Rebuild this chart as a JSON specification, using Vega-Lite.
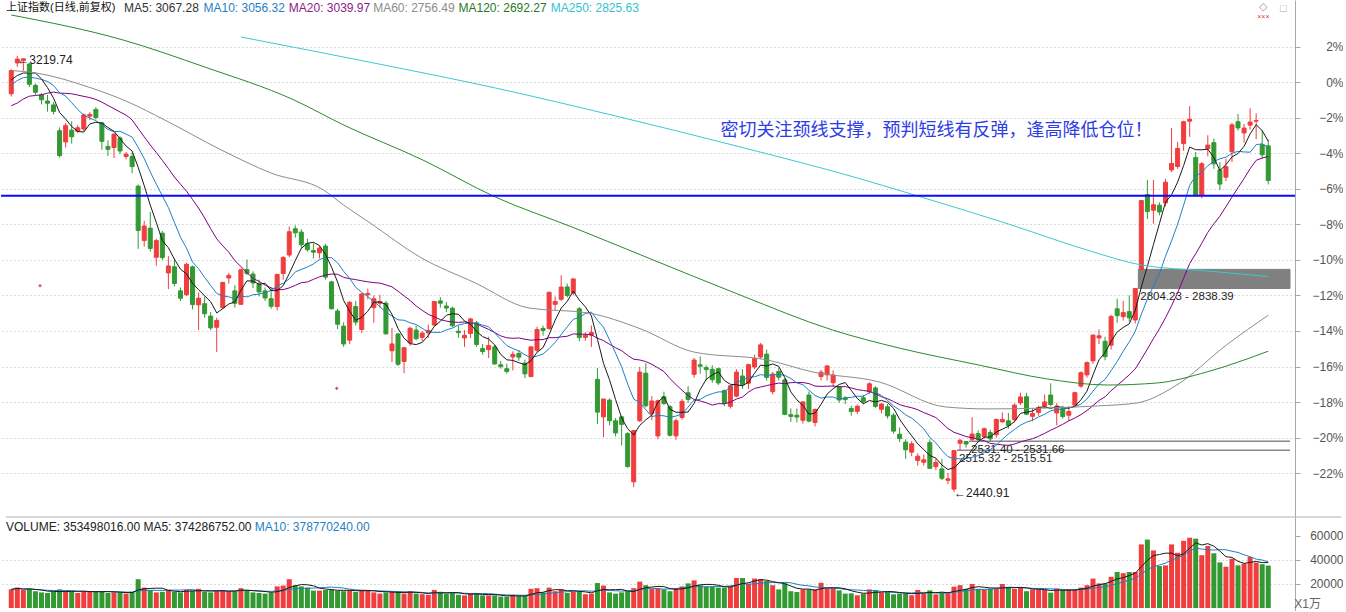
{
"$schema":"https://vega.github.io/schema/vega-lite/v6.json",
"padding":0,
"background":"#ffffff",
"spacing":0,
"bounds":"flush",
"config":{"view":{"stroke":null},"font":"Liberation Sans"},
"datasets":{
"k":[
{"i":-19,"c":3117.38},{"i":-18,"c":3071.54},{"i":-17,"c":3068.01},{"i":-16,"c":3128.93},{"i":-15,"c":3117.97},{"i":-14,"c":3075.03},{"i":-13,"c":3082.23},{"i":-12,"c":3081.18},{"i":-11,"c":3100.86},{"i":-10,"c":3091.03},{"i":-9,"c":3136.65},{"i":-8,"c":3161.5},{"i":-7,"c":3159.15},{"i":-6,"c":3174.41},{"i":-5,"c":3163.26},{"i":-4,"c":3174.03},{"i":-3,"c":3192.12},{"i":-2,"c":3169.57},{"i":-1,"c":3154.28},
{"i":0,"o":3152,"h":3196,"l":3147,"c":3193.3,"v":15500},
{"i":1,"o":3207,"h":3219.74,"l":3200,"c":3213.84,"v":17000},
{"i":2,"o":3211,"h":3215,"l":3193,"c":3214.35,"v":15000},
{"i":3,"o":3205,"h":3207,"l":3164,"c":3168.96,"v":16000},
{"i":4,"o":3167,"h":3170,"l":3150,"c":3154.65,"v":14000},
{"i":5,"o":3150,"h":3153,"l":3133,"c":3141.3,"v":13000},
{"i":6,"o":3139,"h":3150,"l":3120,"c":3135.08,"v":12500},
{"i":7,"o":3132,"h":3137,"l":3115,"c":3120.46,"v":13500},
{"i":8,"o":3086,"h":3092,"l":3038,"c":3041.44,"v":15500},
{"i":9,"o":3066,"h":3100,"l":3056,"c":3095.47,"v":14000},
{"i":10,"o":3087,"h":3103,"l":3063,"c":3075.14,"v":14000},
{"i":11,"o":3085,"h":3096,"l":3082,"c":3091.19,"v":12500},
{"i":12,"o":3089,"h":3117,"l":3085,"c":3114.21,"v":14000},
{"i":13,"o":3112,"h":3119,"l":3105,"c":3115.18,"v":14000},
{"i":14,"o":3124,"h":3128,"l":3106,"c":3109.5,"v":13500},
{"i":15,"o":3100,"h":3102,"l":3052,"c":3067.15,"v":14000},
{"i":16,"o":3058,"h":3069,"l":3041,"c":3052.78,"v":12500},
{"i":17,"o":3056,"h":3082,"l":3037,"c":3079.8,"v":13000},
{"i":18,"o":3073,"h":3076,"l":3044,"c":3049.8,"v":13000},
{"i":19,"o":3040,"h":3048,"l":3035,"c":3044.16,"v":12000},
{"i":20,"o":3040,"h":3047,"l":3010,"c":3021.9,"v":13500},
{"i":21,"o":2987,"h":2990,"l":2875,"c":2907.82,"v":24000},
{"i":22,"o":2890,"h":2925,"l":2879,"c":2915.73,"v":17000},
{"i":23,"o":2912,"h":2941,"l":2870,"c":2875.81,"v":15000},
{"i":24,"o":2860,"h":2893,"l":2845,"c":2889.76,"v":13000},
{"i":25,"o":2903,"h":2907,"l":2855,"c":2859.34,"v":13500},
{"i":26,"o":2832,"h":2862,"l":2803,"c":2844.51,"v":15000},
{"i":27,"o":2843,"h":2858,"l":2808,"c":2813.18,"v":13500},
{"i":28,"o":2800,"h":2806,"l":2782,"c":2786.9,"v":13000},
{"i":29,"o":2793,"h":2850,"l":2791,"c":2847.42,"v":15000},
{"i":30,"o":2843,"h":2845,"l":2767,"c":2775.56,"v":14500},
{"i":31,"o":2775,"h":2797,"l":2730,"c":2786.89,"v":16000},
{"i":32,"o":2777,"h":2790,"l":2752,"c":2759.13,"v":13500},
{"i":33,"o":2755,"h":2762,"l":2730,"c":2733.88,"v":13000},
{"i":34,"o":2735,"h":2752,"l":2691.02,"c":2747.23,"v":14500},
{"i":35,"o":2770,"h":2816,"l":2768,"c":2815.11,"v":15000},
{"i":36,"o":2823,"h":2832,"l":2813,"c":2827.63,"v":14000},
{"i":37,"o":2800,"h":2810,"l":2770,"c":2777.77,"v":14000},
{"i":38,"o":2776,"h":2840,"l":2775,"c":2837.66,"v":16500},
{"i":39,"o":2838,"h":2856,"l":2828,"c":2831.18,"v":15000},
{"i":40,"o":2830,"h":2835,"l":2805,"c":2814.04,"v":13000},
{"i":41,"o":2812,"h":2820,"l":2790,"c":2798.13,"v":12500},
{"i":42,"o":2800,"h":2806,"l":2782,"c":2787.26,"v":12000},
{"i":43,"o":2786,"h":2806,"l":2768,"c":2772.55,"v":12500},
{"i":44,"o":2772,"h":2831,"l":2765,"c":2829.27,"v":18000},
{"i":45,"o":2831,"h":2862,"l":2820,"c":2859.54,"v":18700},
{"i":46,"o":2864,"h":2915,"l":2860,"c":2905.56,"v":24000},
{"i":47,"o":2911,"h":2917,"l":2895,"c":2903.65,"v":19000},
{"i":48,"o":2905,"h":2910,"l":2876,"c":2882.23,"v":18000},
{"i":49,"o":2884,"h":2893,"l":2870,"c":2873.59,"v":17000},
{"i":50,"o":2872,"h":2885,"l":2858,"c":2869.05,"v":14500},
{"i":51,"o":2868,"h":2880,"l":2858,"c":2876.4,"v":14500},
{"i":52,"o":2880,"h":2884,"l":2820,"c":2824.53,"v":15000},
{"i":53,"o":2816,"h":2818,"l":2767,"c":2768.02,"v":15500},
{"i":54,"o":2764,"h":2768,"l":2732,"c":2740.44,"v":14500},
{"i":55,"o":2737,"h":2744,"l":2700,"c":2705.16,"v":14000},
{"i":56,"o":2712,"h":2782,"l":2705,"c":2779.37,"v":15000},
{"i":57,"o":2772,"h":2782,"l":2738,"c":2744.07,"v":13500},
{"i":58,"o":2731,"h":2796,"l":2725,"c":2794.38,"v":15000},
{"i":59,"o":2793,"h":2804,"l":2785,"c":2795.31,"v":15000},
{"i":60,"o":2770,"h":2792,"l":2743,"c":2785.87,"v":13000},
{"i":61,"o":2778,"h":2793,"l":2770,"c":2780.96,"v":12000},
{"i":62,"o":2778,"h":2782,"l":2722,"c":2723.26,"v":13000},
{"i":63,"o":2693,"h":2734,"l":2673,"c":2705.19,"v":13500},
{"i":64,"o":2723,"h":2725,"l":2666,"c":2668.97,"v":13500},
{"i":65,"o":2674,"h":2700,"l":2653,"c":2698.47,"v":12000},
{"i":66,"o":2707,"h":2736,"l":2702,"c":2733.25,"v":14000},
{"i":67,"o":2730,"h":2738,"l":2712,"c":2714.61,"v":12000},
{"i":68,"o":2717,"h":2728,"l":2710,"c":2724.62,"v":11500},
{"i":69,"o":2725,"h":2740,"l":2716,"c":2729.43,"v":11000},
{"i":70,"o":2739,"h":2782,"l":2737,"c":2780.9,"v":15000},
{"i":71,"o":2782,"h":2789,"l":2770,"c":2777.98,"v":13500},
{"i":72,"o":2773,"h":2780,"l":2762,"c":2769.3,"v":12000},
{"i":73,"o":2769,"h":2772,"l":2735,"c":2737.74,"v":12500},
{"i":74,"o":2728,"h":2738,"l":2716,"c":2725.25,"v":11000},
{"i":75,"o":2716,"h":2730,"l":2700,"c":2720.73,"v":10500},
{"i":76,"o":2724,"h":2752,"l":2716,"c":2749.93,"v":12000},
{"i":77,"o":2743,"h":2746,"l":2700,"c":2704.34,"v":12500},
{"i":78,"o":2697,"h":2705,"l":2686,"c":2691.59,"v":10500},
{"i":79,"o":2695,"h":2718,"l":2680,"c":2702.3,"v":10500},
{"i":80,"o":2700,"h":2704,"l":2668,"c":2669.48,"v":10500},
{"i":81,"o":2668,"h":2675,"l":2661,"c":2664.8,"v":9500},
{"i":82,"o":2661,"h":2670,"l":2652,"c":2656.11,"v":9500},
{"i":83,"o":2682,"h":2692,"l":2658,"c":2686.58,"v":11000},
{"i":84,"o":2688,"h":2694,"l":2675,"c":2681.64,"v":10000},
{"i":85,"o":2671,"h":2677,"l":2644,"c":2651.79,"v":10000},
{"i":86,"o":2647,"h":2701,"l":2646,"c":2699.95,"v":16000},
{"i":87,"o":2694,"h":2736,"l":2690,"c":2730.85,"v":16500},
{"i":88,"o":2733,"h":2738,"l":2720,"c":2729.24,"v":13000},
{"i":89,"o":2733,"h":2798.5,"l":2730,"c":2797.49,"v":17000},
{"i":90,"o":2776,"h":2790,"l":2765,"c":2781.14,"v":14000},
{"i":91,"o":2785,"h":2828,"l":2782,"c":2806.81,"v":15500},
{"i":92,"o":2807,"h":2813,"l":2788,"c":2791.77,"v":12500},
{"i":93,"o":2796,"h":2822,"l":2792,"c":2821.35,"v":13500},
{"i":94,"o":2768,"h":2771,"l":2710,"c":2716.51,"v":14000},
{"i":95,"o":2717,"h":2726,"l":2711,"c":2721.01,"v":11500},
{"i":96,"o":2721,"h":2738,"l":2700,"c":2725.84,"v":12000},
{"i":97,"o":2642,"h":2662,"l":2562,"c":2583.46,"v":20800},
{"i":98,"o":2575,"h":2607,"l":2539,"c":2606.91,"v":18700},
{"i":99,"o":2605,"h":2608,"l":2560,"c":2568.1,"v":13000},
{"i":100,"o":2568,"h":2573,"l":2540,"c":2546.33,"v":12000},
{"i":101,"o":2575,"h":2577,"l":2524,"c":2561.61,"v":13000},
{"i":102,"o":2545,"h":2548,"l":2484,"c":2486.42,"v":14000},
{"i":103,"o":2459,"h":2551.6,"l":2449.2,"c":2550.47,"v":16500},
{"i":104,"o":2568,"h":2664.41,"l":2566,"c":2654.88,"v":22000},
{"i":105,"o":2653,"h":2671,"l":2592,"c":2594.83,"v":19000},
{"i":106,"o":2581,"h":2612,"l":2569,"c":2603.3,"v":16000},
{"i":107,"o":2541,"h":2606,"l":2535,"c":2603.8,"v":16500},
{"i":108,"o":2611,"h":2620,"l":2596,"c":2598.85,"v":15500},
{"i":109,"o":2593,"h":2596,"l":2540,"c":2542.1,"v":14000},
{"i":110,"o":2541,"h":2572,"l":2534,"c":2568.05,"v":16000},
{"i":111,"o":2574,"h":2607,"l":2570,"c":2602.78,"v":18000},
{"i":112,"o":2618,"h":2630,"l":2600,"c":2606.24,"v":20500},
{"i":113,"o":2651,"h":2680,"l":2645,"c":2676.48,"v":23000},
{"i":114,"o":2668,"h":2683,"l":2652,"c":2665.43,"v":19000},
{"i":115,"o":2663,"h":2667,"l":2640,"c":2659.36,"v":17800},
{"i":116,"o":2660,"h":2667,"l":2636,"c":2641.34,"v":17800},
{"i":117,"o":2661,"h":2663,"l":2632,"c":2635.63,"v":17000},
{"i":118,"o":2622,"h":2624,"l":2594,"c":2598.87,"v":17000},
{"i":119,"o":2594,"h":2632,"l":2590,"c":2630.52,"v":18000},
{"i":120,"o":2612,"h":2660,"l":2610,"c":2654.88,"v":25000},
{"i":121,"o":2648,"h":2660,"l":2625,"c":2632.24,"v":25000},
{"i":122,"o":2635,"h":2670,"l":2625,"c":2668.17,"v":20000},
{"i":123,"o":2664,"h":2686,"l":2660,"c":2679.11,"v":24500},
{"i":124,"o":2682,"h":2707,"l":2678,"c":2703.51,"v":24000},
{"i":125,"o":2687,"h":2695,"l":2640,"c":2645.43,"v":22500},
{"i":126,"o":2620,"h":2655,"l":2615,"c":2651.51,"v":19000},
{"i":127,"o":2656,"h":2662,"l":2640,"c":2645.85,"v":15500},
{"i":128,"o":2641,"h":2644,"l":2578,"c":2579.48,"v":20500},
{"i":129,"o":2579,"h":2590,"l":2566,"c":2575.81,"v":14000},
{"i":130,"o":2578,"h":2590,"l":2565,"c":2574.68,"v":13300},
{"i":131,"o":2569,"h":2603,"l":2563,"c":2601.74,"v":15500},
{"i":132,"o":2614,"h":2620,"l":2565,"c":2567.44,"v":15500},
{"i":133,"o":2565,"h":2590,"l":2558,"c":2588.19,"v":15500},
{"i":134,"o":2647,"h":2659,"l":2640,"c":2654.8,"v":21000},
{"i":135,"o":2650,"h":2667,"l":2640,"c":2665.96,"v":16400},
{"i":136,"o":2636,"h":2658,"l":2628,"c":2649.81,"v":16400},
{"i":137,"o":2629,"h":2630,"l":2600,"c":2605.18,"v":14700},
{"i":138,"o":2609,"h":2612,"l":2598,"c":2605.89,"v":12000},
{"i":139,"o":2590,"h":2595,"l":2577,"c":2584.58,"v":12200},
{"i":140,"o":2585,"h":2597,"l":2580,"c":2594.09,"v":10600},
{"i":141,"o":2609,"h":2614,"l":2598,"c":2602.15,"v":12000},
{"i":142,"o":2620,"h":2637,"l":2616,"c":2634.05,"v":15500},
{"i":143,"o":2626.6,"h":2630,"l":2591,"c":2593.74,"v":15000},
{"i":144,"o":2588.5,"h":2600,"l":2581,"c":2597.97,"v":12800},
{"i":145,"o":2593,"h":2598,"l":2572,"c":2576.65,"v":13300},
{"i":146,"o":2578,"h":2582,"l":2545,"c":2549.56,"v":11400},
{"i":147,"o":2544,"h":2556,"l":2530,"c":2536.27,"v":12000},
{"i":148,"o":2530,"h":2535,"l":2500,"c":2516.25,"v":12200},
{"i":149,"o":2512,"h":2532,"l":2505,"c":2527.01,"v":10600},
{"i":150,"o":2497,"h":2510,"l":2488,"c":2504.82,"v":15000},
{"i":151,"o":2494,"h":2508,"l":2488,"c":2498.29,"v":12200},
{"i":152,"o":2529,"h":2535,"l":2483,"c":2483.09,"v":14700},
{"i":153,"o":2486,"h":2500,"l":2480,"c":2493.9,"v":11400},
{"i":154,"o":2482,"h":2500,"l":2462,"c":2465.29,"v":12800},
{"i":155,"o":2461.78,"h":2475,"l":2455,"c":2464.36,"v":12200},
{"i":156,"o":2446,"h":2515.32,"l":2440.91,"c":2514.87,"v":17800},
{"i":157,"o":2528,"h":2536,"l":2515.51,"c":2533.09,"v":19000},
{"i":158,"o":2531,"h":2531.4,"l":2520,"c":2526.46,"v":16000},
{"i":159,"o":2535,"h":2574.41,"l":2531.66,"c":2544.34,"v":20000},
{"i":160,"o":2545,"h":2551,"l":2530,"c":2535.1,"v":16000},
{"i":161,"o":2540,"h":2556,"l":2536,"c":2553.83,"v":15500},
{"i":162,"o":2547,"h":2552,"l":2530,"c":2535.77,"v":16000},
{"i":163,"o":2543,"h":2572,"l":2538,"c":2570.34,"v":16000},
{"i":164,"o":2566,"h":2583,"l":2565,"c":2570.42,"v":20000},
{"i":165,"o":2568,"h":2582,"l":2554,"c":2559.64,"v":17000},
{"i":166,"o":2570,"h":2599,"l":2565,"c":2596.01,"v":16000},
{"i":167,"o":2600,"h":2618,"l":2596,"c":2610.51,"v":17000},
{"i":168,"o":2611,"h":2618,"l":2578,"c":2579.7,"v":14000},
{"i":169,"o":2576,"h":2590,"l":2567,"c":2581,"v":15500},
{"i":170,"o":2583,"h":2595,"l":2577,"c":2591.69,"v":15500},
{"i":171,"o":2594,"h":2615,"l":2590,"c":2601.72,"v":15000},
{"i":172,"o":2614,"h":2635,"l":2594,"c":2596.98,"v":12800},
{"i":173,"o":2582,"h":2600,"l":2560,"c":2594.25,"v":16000},
{"i":174,"o":2590,"h":2595,"l":2572,"c":2575.58,"v":15000},
{"i":175,"o":2578,"h":2594,"l":2568,"c":2584.57,"v":15500},
{"i":176,"o":2596,"h":2620,"l":2594,"c":2618.23,"v":15500},
{"i":177,"o":2630,"h":2656,"l":2627,"c":2653.9,"v":17000},
{"i":178,"o":2650,"h":2674,"l":2645,"c":2671.89,"v":19000},
{"i":179,"o":2675,"h":2722,"l":2670,"c":2721.07,"v":24500},
{"i":180,"o":2716,"h":2731,"l":2705,"c":2719.7,"v":20500},
{"i":181,"o":2710,"h":2718,"l":2676,"c":2682.39,"v":20500},
{"i":182,"o":2703,"h":2757,"l":2695,"c":2754.36,"v":26000},
{"i":183,"o":2768,"h":2786,"l":2743,"c":2755.65,"v":30000},
{"i":184,"o":2754,"h":2782,"l":2747,"c":2761.22,"v":29000},
{"i":185,"o":2763,"h":2792,"l":2745,"c":2751.8,"v":30000},
{"i":186,"o":2748,"h":2804.23,"l":2742,"c":2804.23,"v":30000},
{"i":187,"o":2838.39,"h":2961.28,"l":2838.39,"c":2961.28,"v":53000},
{"i":188,"o":2972,"h":2998,"l":2928,"c":2941.52,"v":57000},
{"i":189,"o":2944,"h":2998,"l":2920,"c":2953.82,"v":48000},
{"i":190,"o":2953,"h":2958,"l":2935,"c":2940.95,"v":35000},
{"i":191,"o":2957,"h":3000,"l":2951,"c":2994.01,"v":35500},
{"i":192,"o":3016,"h":3090.8,"l":3012,"c":3027.58,"v":53000},
{"i":193,"o":3022,"h":3066,"l":3018,"c":3054.25,"v":46000},
{"i":194,"o":3063,"h":3103.9,"l":3050,"c":3102.1,"v":56000},
{"i":195,"o":3103,"h":3129.94,"l":3075,"c":3106.42,"v":58600},
{"i":196,"o":3038,"h":3048,"l":2969,"c":2969.86,"v":57800},
{"i":197,"o":2971,"h":3030,"l":2965,"c":3026.99,"v":44000},
{"i":198,"o":3054,"h":3078,"l":3040,"c":3060.31,"v":51700},
{"i":199,"o":3064.6,"h":3072,"l":3018,"c":3026.95,"v":45600},
{"i":200,"o":3016,"h":3030,"l":2980,"c":2990.69,"v":38000},
{"i":201,"o":3003,"h":3036,"l":2996,"c":3021.75,"v":34400},
{"i":202,"o":3048.5,"h":3100,"l":3030,"c":3096.42,"v":41000},
{"i":203,"o":3102,"h":3116,"l":3086,"c":3090.98,"v":35500},
{"i":204,"o":3082,"h":3098,"l":3065,"c":3090.64,"v":37000},
{"i":205,"o":3096,"h":3126,"l":3088,"c":3101.46,"v":42500},
{"i":206,"o":3103,"h":3117,"l":3071,"c":3104.15,"v":37800},
{"i":207,"o":3061,"h":3087,"l":3036,"c":3043.03,"v":36500},
{"i":208,"o":3059,"h":3070,"l":2990,"c":2997.1,"v":35350}
],
"ma60":[{"i":0,"p":3193.5},{"i":4.06,"p":3189.1},{"i":12.76,"p":3164.1},{"i":19.33,"p":3137.3},{"i":25.4,"p":3105.1},{"i":34.76,"p":3051.6},{"i":42.97,"p":3010.5},{"i":51.68,"p":2980.1},{"i":55,"p":2953.3},{"i":59.39,"p":2921.2},{"i":67.6,"p":2860.5},{"i":76.8,"p":2814.1},{"i":85.66,"p":2769.4},{"i":95.5,"p":2760.5},{"i":104.2,"p":2731.9},{"i":112.9,"p":2690.9},{"i":125.1,"p":2676.6},{"i":132.6,"p":2655.2},{"i":143.6,"p":2637.4},{"i":154.6,"p":2592.7},{"i":161.7,"p":2589.2},{"i":171.5,"p":2590.9},{"i":179.7,"p":2594.5},{"i":186.3,"p":2599.9},{"i":192.9,"p":2632.1},{"i":201.1,"p":2703.5},{"i":208,"p":2756.49}],
"ma120":[{"i":0,"p":3292.6},{"i":18.5,"p":3248},{"i":32,"p":3199.8},{"i":46.8,"p":3140.8},{"i":55,"p":3096.2},{"i":68.1,"p":3033.7},{"i":80.1,"p":2967.6},{"i":93.2,"p":2912.3},{"i":104.2,"p":2864.1},{"i":120.6,"p":2792.6},{"i":135.9,"p":2730.1},{"i":146.9,"p":2698},{"i":160.1,"p":2667.6},{"i":171.5,"p":2642.6},{"i":181.4,"p":2631.9},{"i":189.6,"p":2635.5},{"i":197.8,"p":2655.1},{"i":208,"p":2692.27}],
"ma250":[{"i":38,"p":3253.3},{"i":60,"p":3206.9},{"i":80.1,"p":3162.3},{"i":100,"p":3112.3},{"i":120,"p":3058.7},{"i":140,"p":3001.6},{"i":150,"p":2969.4},{"i":165,"p":2919.4},{"i":178,"p":2873},{"i":187,"p":2846.2},{"i":198,"p":2835.5},{"i":208,"p":2825.63}],
"gaps":[{"s":186.5,"lo":2804.23,"hi":2838.39,"t":"2804.23 - 2838.39"},{"s":156.5,"lo":2515.32,"hi":2515.51,"t":"2515.32 - 2515.51"},{"s":158.5,"lo":2531.4,"hi":2531.66,"t":"2531.40 - 2531.66"}]
},
"vconcat":[
{
"width":1294,"height":517,
"layer":[
{"data":{"name":"gaps"},"mark":{"type":"rect","fill":"#808080","stroke":"#808080","strokeWidth":1},
 "encoding":{"x":{"field":"s","type":"quantitative","scale":{"domain":[-0.87,211.6],"nice":false,"zero":false},"axis":null},"x2":{"datum":211.6},
 "y":{"field":"lo","type":"quantitative","scale":{"domain":[2396.2,3319.4],"nice":false,"zero":false},
  "axis":{"orient":"right","title":null,"values":[3235.95,3172.5,3109.05,3045.6,2982.15,2918.7,2855.25,2791.8,2728.35,2664.9,2601.45,2538.0,2474.55],
   "labelExpr":"format((datum.value/3172.5-1)*100,'.0f')+'%'","grid":true,"gridDash":[1,3],"gridColor":"#b4b4b4","domainColor":"#a8a8a8","tickColor":"#a8a8a8","tickSize":5,
   "labelAlign":"right","labelPadding":43,"labelColor":"#555555","labelFont":"Liberation Sans","labelFontSize":12,"labelFlush":false}},
 "y2":{"field":"hi"}}},
{"data":{"name":"gaps"},"mark":{"type":"text","align":"left","baseline":"top","dx":2,"dy":3,"fontSize":11.5,"color":"#222222","font":"Liberation Sans"},
 "encoding":{"x":{"field":"s","type":"quantitative","axis":null},"y":{"field":"lo","type":"quantitative"},"text":{"field":"t"}}},
{"data":{"name":"k"},"transform":[{"filter":"datum.i >= 0"}],
 "layer":[
  {"mark":{"type":"rule","strokeWidth":1},
   "encoding":{"x":{"field":"i","type":"quantitative","axis":null},"y":{"field":"l","type":"quantitative"},"y2":{"field":"h"},
    "color":{"condition":{"test":"datum.c >= datum.o","value":"#f03d3d"},"value":"#339933"}}},
  {"mark":{"type":"bar","width":4,"strokeWidth":1},
   "encoding":{"x":{"field":"i","type":"quantitative","axis":null},"y":{"field":"o","type":"quantitative"},"y2":{"field":"c"},
    "color":{"condition":{"test":"datum.c >= datum.o","value":"#f03d3d"},"value":"#339933"},
    "stroke":{"condition":{"test":"datum.c >= datum.o","value":"#f03d3d"},"value":"#339933"}}}
 ]},
{"data":{"name":"k"},
 "transform":[
  {"window":[{"op":"mean","field":"c","as":"ma5"}],"frame":[-4,0],"sort":[{"field":"i"}]},
  {"window":[{"op":"mean","field":"c","as":"ma10"}],"frame":[-9,0],"sort":[{"field":"i"}]},
  {"window":[{"op":"mean","field":"c","as":"ma20"}],"frame":[-19,0],"sort":[{"field":"i"}]},
  {"filter":"datum.i >= 0"}],
 "layer":[
  {"mark":{"type":"line","color":"#800080","strokeWidth":1},"encoding":{"x":{"field":"i","type":"quantitative","axis":null},"y":{"field":"ma20","type":"quantitative"}}},
  {"mark":{"type":"line","color":"#1f7fc4","strokeWidth":1},"encoding":{"x":{"field":"i","type":"quantitative","axis":null},"y":{"field":"ma10","type":"quantitative"}}},
  {"mark":{"type":"line","color":"#1a1a1a","strokeWidth":1},"encoding":{"x":{"field":"i","type":"quantitative","axis":null},"y":{"field":"ma5","type":"quantitative"}}}
 ]},
{"data":{"name":"ma60"},"mark":{"type":"line","color":"#8c8c8c","strokeWidth":1,"interpolate":"monotone"},"encoding":{"x":{"field":"i","type":"quantitative","axis":null},"y":{"field":"p","type":"quantitative"}}},
{"data":{"name":"ma120"},"mark":{"type":"line","color":"#2a8a2a","strokeWidth":1,"interpolate":"monotone"},"encoding":{"x":{"field":"i","type":"quantitative","axis":null},"y":{"field":"p","type":"quantitative"}}},
{"data":{"name":"ma250"},"mark":{"type":"line","color":"#3cc8d4","strokeWidth":1,"interpolate":"monotone"},"encoding":{"x":{"field":"i","type":"quantitative","axis":null},"y":{"field":"p","type":"quantitative"}}},
{"data":{"values":[{}]},"mark":{"type":"rule","color":"#0a0aff","strokeWidth":2},"encoding":{"y":{"datum":2969.86}}},
{"data":{"values":[{}]},"mark":{"type":"point","shape":"cross","filled":true,"size":10,"color":"#cc0000"},"encoding":{"x":{"datum":4.76,"axis":null},"y":{"datum":2809.2}}},
{"data":{"values":[{}]},"mark":{"type":"point","shape":"cross","filled":true,"size":10,"color":"#cc0000"},"encoding":{"x":{"datum":53.86,"axis":null},"y":{"datum":2626.0}}},
{"data":{"values":[{}]},"mark":{"type":"text","text":"←3219.74","align":"left","baseline":"middle","dy":4,"fontSize":12,"color":"#222222","font":"Liberation Sans"},"encoding":{"x":{"datum":1,"axis":null},"y":{"datum":3219.74}}},
{"data":{"values":[{}]},"mark":{"type":"text","text":"←2440.91","align":"left","baseline":"middle","dy":1,"fontSize":12,"color":"#222222","font":"Liberation Sans"},"encoding":{"x":{"datum":156,"axis":null},"y":{"datum":2440.91}}},
{"data":{"values":[{}]},"mark":{"type":"text","text":"密切关注颈线支撑，预判短线有反弹，逢高降低仓位！","align":"left","baseline":"middle","fontSize":18,"color":"#2d3de6","font":"Noto Sans CJK SC"},"encoding":{"x":{"datum":117.36,"axis":null},"y":{"datum":3085.5}}},
{"data":{"values":[{}]},"mark":{"type":"text","text":"上证指数(日线,前复权)","align":"left","baseline":"middle","fontSize":11,"color":"#111111","font":"Liberation Sans, Noto Sans CJK SC"},"encoding":{"x":{"datum":-0.87,"axis":null},"y":{"datum":3305.1}}},
{"data":{"values":[{}]},"mark":{"type":"text","text":"MA5: 3067.28","align":"left","baseline":"middle","fontSize":12,"color":"#333333","font":"Liberation Sans"},"encoding":{"x":{"datum":18.67,"axis":null},"y":{"datum":3305.1}}},
{"data":{"values":[{}]},"mark":{"type":"text","text":"MA10: 3056.32","align":"left","baseline":"middle","fontSize":12,"color":"#1f7fc4","font":"Liberation Sans"},"encoding":{"x":{"datum":31.81,"axis":null},"y":{"datum":3305.1}}},
{"data":{"values":[{}]},"mark":{"type":"text","text":"MA20: 3039.97","align":"left","baseline":"middle","fontSize":12,"color":"#8b1a8b","font":"Liberation Sans"},"encoding":{"x":{"datum":45.93,"axis":null},"y":{"datum":3305.1}}},
{"data":{"values":[{}]},"mark":{"type":"text","text":"MA60: 2756.49","align":"left","baseline":"middle","fontSize":12,"color":"#8c8c8c","font":"Liberation Sans"},"encoding":{"x":{"datum":59.89,"axis":null},"y":{"datum":3305.1}}},
{"data":{"values":[{}]},"mark":{"type":"text","text":"MA120: 2692.27","align":"left","baseline":"middle","fontSize":12,"color":"#1f7a1f","font":"Liberation Sans"},"encoding":{"x":{"datum":74.01,"axis":null},"y":{"datum":3305.1}}},
{"data":{"values":[{}]},"mark":{"type":"text","text":"MA250: 2825.63","align":"left","baseline":"middle","fontSize":12,"color":"#33c3cc","font":"Liberation Sans"},"encoding":{"x":{"datum":89.28,"axis":null},"y":{"datum":3305.1}}},
{"data":{"values":[{}]},"mark":{"type":"text","text":"◇","align":"center","baseline":"middle","fontSize":11,"color":"#999999"},"encoding":{"x":{"datum":207.2,"axis":null},"y":{"datum":3306.9}}},
{"data":{"values":[{}]},"mark":{"type":"text","text":"×××","align":"center","baseline":"middle","fontSize":7,"color":"#e03030"},"encoding":{"x":{"datum":207.2,"axis":null},"y":{"datum":3289.1}}},
{"data":{"values":[{}]},"mark":{"type":"text","text":"□","align":"center","baseline":"middle","fontSize":11,"color":"#aaaaaa"},"encoding":{"x":{"datum":210.5,"axis":null},"y":{"datum":3303}}}
]
},
{
"width":1294,"height":94,
"layer":[
{"data":{"name":"k"},"transform":[{"filter":"datum.i >= 0"}],"mark":{"type":"bar","width":5},
 "encoding":{"x":{"field":"i","type":"quantitative","scale":{"domain":[-0.87,211.6],"nice":false,"zero":false},"axis":null},
  "y":{"field":"v","type":"quantitative","scale":{"domain":[-2500,75833],"nice":false,"zero":false},
   "axis":{"orient":"right","title":null,"values":[20000,40000,60000],"format":"d","grid":true,"gridDash":[1,3],
    "gridColor":{"condition":{"test":"datum.value > 50000","value":"transparent"},"value":"#b4b4b4"},
    "domainColor":"#a8a8a8","tickColor":"#a8a8a8","tickSize":5,"labelAlign":"right","labelPadding":43,"labelColor":"#555555","labelFont":"Liberation Sans","labelFontSize":12,"labelFlush":false}},
  "y2":{"datum":0},
  "color":{"condition":{"test":"datum.c >= datum.o","value":"#f03d3d"},"value":"#339933"}}},
{"data":{"name":"k"},"transform":[{"filter":"datum.i >= 0"},
  {"window":[{"op":"mean","field":"v","as":"v5"}],"frame":[-4,0],"sort":[{"field":"i"}]},
  {"window":[{"op":"mean","field":"v","as":"v10"}],"frame":[-9,0],"sort":[{"field":"i"}]}],
 "layer":[
  {"mark":{"type":"line","color":"#1f7fc4","strokeWidth":1},"encoding":{"x":{"field":"i","type":"quantitative","axis":null},"y":{"field":"v10","type":"quantitative"}}},
  {"mark":{"type":"line","color":"#1a1a1a","strokeWidth":1},"encoding":{"x":{"field":"i","type":"quantitative","axis":null},"y":{"field":"v5","type":"quantitative"}}}
 ]},
{"data":{"values":[{}]},"mark":{"type":"rule","color":"#b0b0b0","strokeWidth":1},"encoding":{"x":{"datum":-0.87,"axis":null},"x2":{"datum":220.1},"y":{"datum":75833}}},
{"data":{"values":[{}]},"mark":{"type":"text","text":"VOLUME: 353498016.00  MA5: 374286752.00","align":"left","baseline":"middle","fontSize":12,"color":"#222222","font":"Liberation Sans"},"encoding":{"x":{"datum":-0.87,"axis":null},"y":{"datum":67500}}},
{"data":{"values":[{}]},"mark":{"type":"text","text":"MA10: 378770240.00","align":"left","baseline":"middle","fontSize":12,"color":"#1f7fc4","font":"Liberation Sans"},"encoding":{"x":{"datum":40.3,"axis":null},"y":{"datum":67500}}},
{"data":{"values":[{}]},"mark":{"type":"text","text":"X1万","align":"left","baseline":"middle","fontSize":12,"color":"#666666","font":"Liberation Sans, Noto Sans CJK SC"},"encoding":{"x":{"datum":212.3,"axis":null},"y":{"datum":3333}}}
]
}
]
}
